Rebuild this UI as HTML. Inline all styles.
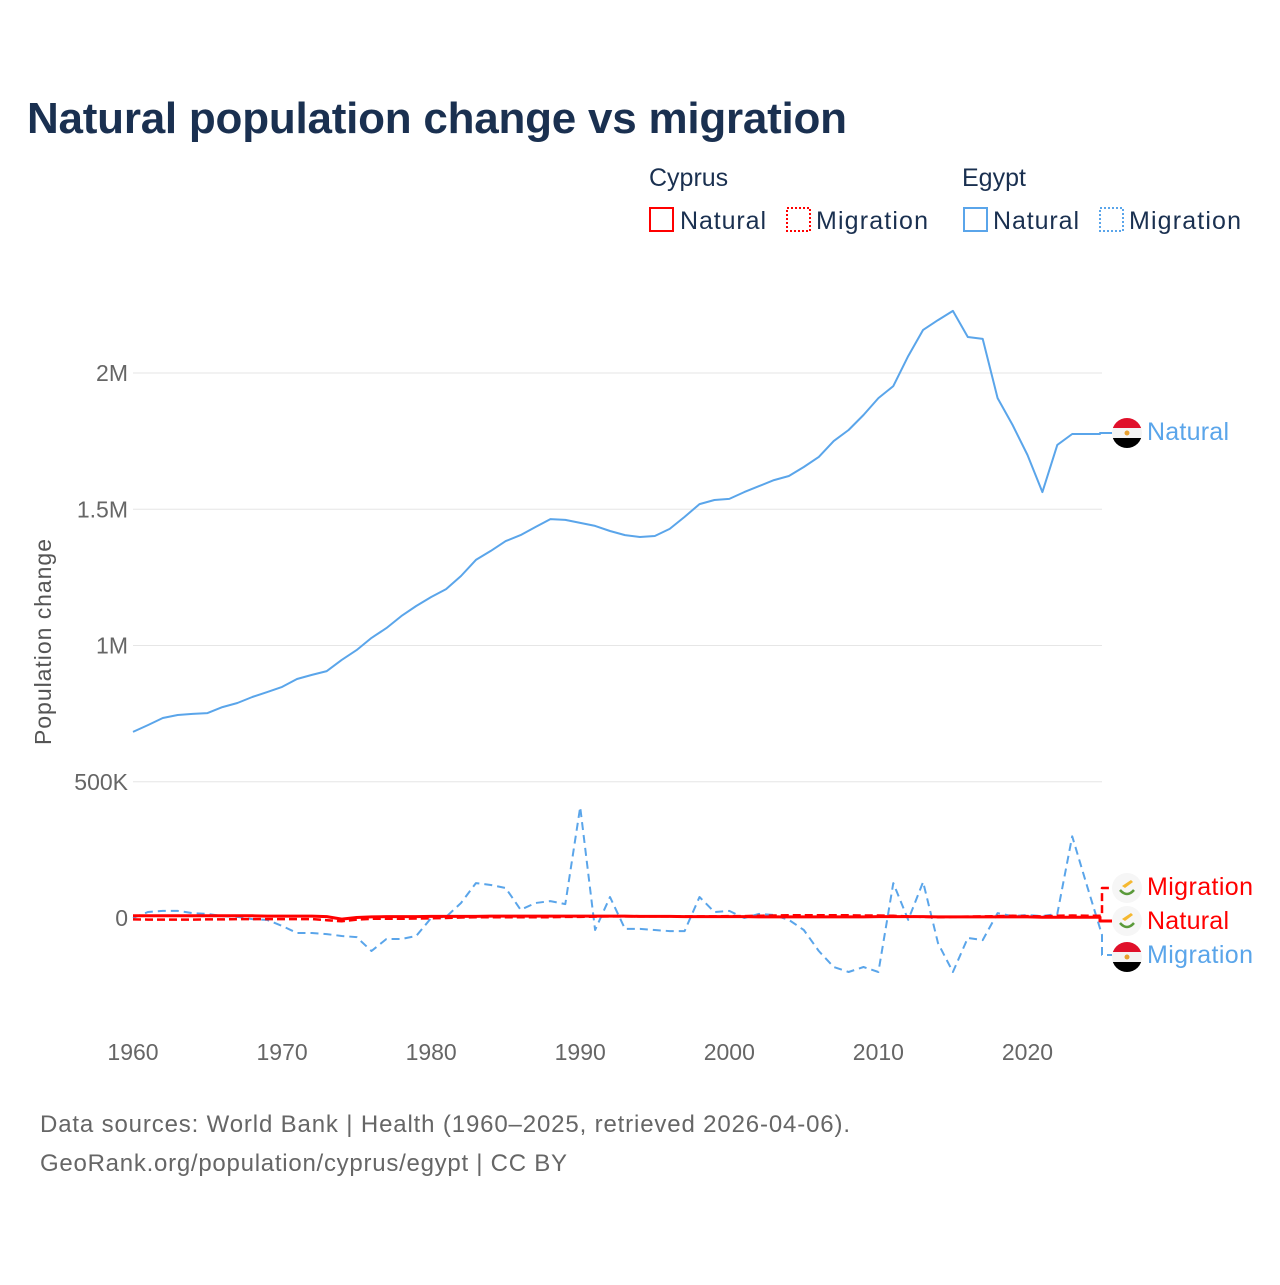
<!DOCTYPE html>
<html><head><meta charset="utf-8"><style>
body{margin:0;background:#fff;}
svg text{font-family:"Liberation Sans",sans-serif;}
</style></head><body>
<svg width="1280" height="1280" viewBox="0 0 1280 1280" xmlns="http://www.w3.org/2000/svg">
<text x="27" y="133" font-size="44" font-weight="bold" fill="#1a3050" textLength="820">Natural population change vs migration</text>
<g font-size="25" fill="#1a3050">
<text x="649" y="186">Cyprus</text>
<text x="962" y="186">Egypt</text>
<g><rect x="650" y="208" width="23" height="23" fill="none" stroke="#ff0000" stroke-width="2"/><text x="680" y="229" textLength="86">Natural</text></g>
<g><rect x="787" y="208" width="23" height="23" fill="none" stroke="#ff0000" stroke-width="2" stroke-dasharray="2,2"/><text x="816" y="229" textLength="112">Migration</text></g>
<g><rect x="964" y="208" width="23" height="23" fill="none" stroke="#5aa5ea" stroke-width="2"/><text x="993" y="229" textLength="86">Natural</text></g>
<g><rect x="1100" y="208" width="23" height="23" fill="none" stroke="#5aa5ea" stroke-width="2" stroke-dasharray="2,2"/><text x="1129" y="229" textLength="112">Migration</text></g>
</g>
<text transform="translate(51,642) rotate(-90)" text-anchor="middle" font-size="23" fill="#555" textLength="206">Population change</text>
<g id="grid"></g><g id="yt"></g><g id="xt"></g><g id="series"></g><g id="labels"></g>
<text x="40" y="1132" font-size="24" fill="#666" textLength="810">Data sources: World Bank | Health (1960–2025, retrieved 2026-04-06).</text>
<text x="40" y="1171" font-size="24" fill="#666" textLength="527">GeoRank.org/population/cyprus/egypt | CC BY</text>
</svg>
<script>
const years=[];for(let y=1960;y<=2025;y++)years.push(y);
const egyptNatural=[0.683,0.708,0.734,0.745,0.749,0.752,0.774,0.789,0.811,0.829,0.848,0.877,0.892,0.906,0.947,0.983,1.028,1.064,1.108,1.145,1.178,1.207,1.255,1.314,1.347,1.383,1.405,1.435,1.464,1.461,1.450,1.439,1.420,1.405,1.398,1.402,1.428,1.472,1.519,1.534,1.538,1.563,1.585,1.607,1.622,1.655,1.692,1.750,1.791,1.846,1.908,1.952,2.062,2.158,2.194,2.228,2.132,2.125,1.908,1.809,1.699,1.563,1.736,1.776];
const egyptMigration=[0,0.022,0.026,0.026,0.018,0.015,0.007,0.004,-0.004,-0.007,-0.029,-0.055,-0.055,-0.059,-0.066,-0.070,-0.121,-0.077,-0.077,-0.066,0,0.004,0.055,0.128,0.121,0.110,0.030,0.055,0.062,0.051,0.407,-0.044,0.077,-0.040,-0.040,-0.044,-0.048,-0.048,0.077,0.022,0.026,0,0.015,0.011,-0.007,-0.044,-0.121,-0.180,-0.198,-0.180,-0.198,0.128,-0.007,0.132,-0.092,-0.198,-0.073,-0.081,0.018,0.007,0.011,0.007,0.015,0.300,0.117,-0.062];
const cyprusNatural=[0.008,0.008,0.008,0.008,0.008,0.008,0.008,0.008,0.008,0.007,0.007,0.007,0.007,0.005,-0.004,0.002,0.004,0.005,0.005,0.005,0.006,0.006,0.006,0.006,0.007,0.007,0.007,0.007,0.007,0.007,0.007,0.007,0.007,0.007,0.006,0.006,0.006,0.005,0.005,0.005,0.005,0.005,0.004,0.004,0.004,0.004,0.004,0.004,0.004,0.004,0.005,0.005,0.005,0.005,0.004,0.004,0.004,0.004,0.004,0.004,0.004,0.003,0.003,0.003];
const cyprusMigration=[-0.005,-0.006,-0.006,-0.006,-0.006,-0.005,-0.005,-0.004,-0.004,-0.004,-0.004,-0.004,-0.004,-0.008,-0.012,-0.006,-0.003,-0.003,-0.003,-0.002,-0.001,0,0.002,0.003,0.003,0.003,0.003,0.003,0.003,0.004,0.004,0.005,0.006,0.006,0.006,0.006,0.006,0.006,0.006,0.006,0.007,0.007,0.008,0.009,0.010,0.010,0.010,0.010,0.010,0.009,0.009,0.008,0.006,0.004,0.003,0.004,0.005,0.006,0.007,0.008,0.007,0.006,0.008,0.009,0.008,0.008];
const yTicks=[0,0.5,1,1.5,2];
const yTickLabels=["0","500K","1M","1.5M","2M"];
const xTicks=[1960,1970,1980,1990,2000,2010,2020];
const NS='http://www.w3.org/2000/svg';
const X=y=>133+(y-1960)*(1102-133)/65;
const Y=v=>918-v*272.5;
function mk(t,a,p){const e=document.createElementNS(NS,t);for(const k in a)e.setAttribute(k,a[k]);document.getElementById(p).appendChild(e);return e;}
yTicks.forEach((v,i)=>{
 if(v>0){const l=mk('line',{x1:133,x2:1102,y1:Y(v),y2:Y(v),stroke:'#e6e6e6','stroke-width':1},'grid');
 
 }
 const t=mk('text',{x:128,y:Y(v)+8,'text-anchor':'end','font-size':23,fill:'#666'},'yt');t.textContent=yTickLabels[i];
 
 
});
xTicks.forEach(y=>{const t=mk('text',{x:X(y),y:1060,'text-anchor':'middle','font-size':23,fill:'#666'},'xt');t.textContent=y;
 
 });
function line(arr,color,w,dash,name,endX,endY){
 let d=arr.map((v,i)=>(i?'L':'M')+X(years[i]).toFixed(1)+','+Y(v).toFixed(1)).join(' ');
 const lx=X(years[arr.length-1]);
 d+=' L'+Math.max(lx,endX-12)+','+Y(arr[arr.length-1]).toFixed(1)+' L'+Math.max(lx,endX-12)+','+endY+' L'+endX+','+endY;
 const p=mk('path',{d:d,fill:'none',stroke:color,'stroke-width':w,'stroke-dasharray':dash,'stroke-linejoin':'round'},'series');
 
 
}
line(egyptMigration,'#5aa5ea',2,'8,5','line-egypt-migration',1112,955);
line(cyprusMigration,'#ff0000',2.5,'8,4','line-cyprus-migration',1112,888);
line(cyprusNatural,'#ff0000',3,'','line-cyprus-natural',1112,921);
line(egyptNatural,'#5aa5ea',2,'','line-egypt-natural',1112,433);
function flag(cx,cy,eg,name){
 const g=mk('g',{},'labels');
 if(eg){
  g.innerHTML='<clipPath id="c'+cy+'"><circle cx="'+cx+'" cy="'+cy+'" r="15"/></clipPath><g clip-path="url(#c'+cy+')"><rect x="'+(cx-15)+'" y="'+(cy-15)+'" width="30" height="10" fill="#e0102a"/><rect x="'+(cx-15)+'" y="'+(cy-5)+'" width="30" height="10" fill="#f4f4f4"/><rect x="'+(cx-15)+'" y="'+(cy+5)+'" width="30" height="10" fill="#000"/></g><circle cx="'+cx+'" cy="'+cy+'" r="2.5" fill="#e8a030"/>';
 } else {
  g.innerHTML='<circle cx="'+cx+'" cy="'+cy+'" r="15" fill="#f6f6f6"/><path d="M'+(cx-5)+','+(cy-2)+' l9,-6 l2,2 l-8,6z" fill="#f5b830"/><path d="M'+(cx-7)+','+(cy+2)+' q7,8 14,0" fill="none" stroke="#5a9a3a" stroke-width="2.5"/>';
 }
}
function lab(y,txt,color,name,tl){const t=mk('text',{x:1147,y:y+9,'font-size':25,fill:color,textLength:tl},'labels');t.textContent=txt;
 
 }
flag(1127,433,true,'flag-egypt');lab(431,'Natural','#5aa5ea','label-egypt-natural',82);
flag(1127,888,false,'flag-cyprus');lab(886,'Migration','#ff0000','label-cyprus-migration',106);
flag(1127,921,false,'flag-cyprus');lab(920,'Natural','#ff0000','label-cyprus-natural',82);
flag(1127,957,true,'flag-egypt');lab(954,'Migration','#5aa5ea','label-egypt-migration',106);
</script>
</body></html>
